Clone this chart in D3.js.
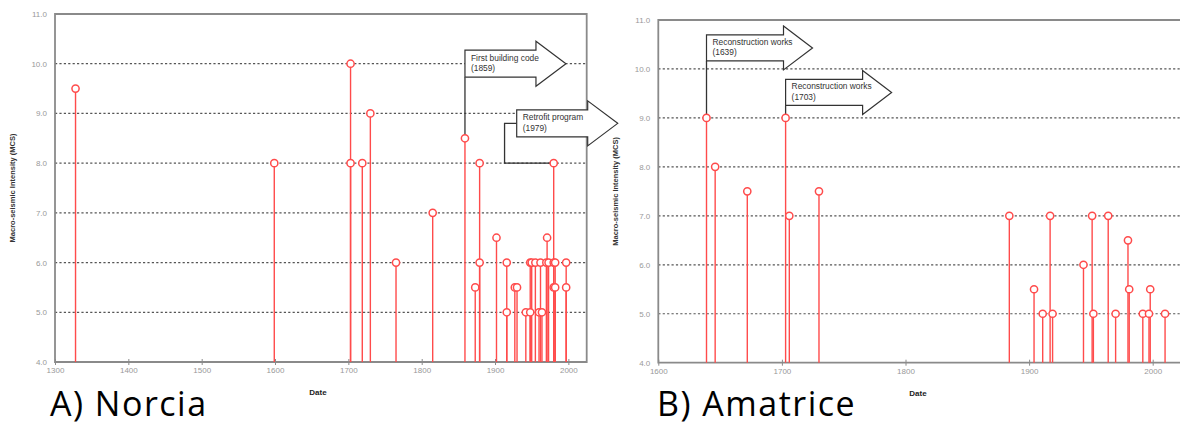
<!DOCTYPE html>
<html><head><meta charset="utf-8">
<script src="https://cdn.jsdelivr.net/npm/d3@7"></script>
<style>
html,body{margin:0;padding:0;background:#fff;}
svg{display:block;font-family:"Liberation Sans",Arial,sans-serif;}
</style></head>
<body>
<svg id="chart" width="1180" height="425"></svg>
<script>
// ---------- DATA ----------
const norciaYears = [1328,1599,1703,1703,1719,1730,1765,1815,1859,1873,1879,1879,1902,1916,1916,1927,1930,1942,1948,1948,1950,1955,1960,1962,1964,1970,1971,1973,1980,1980,1980,1982,1982,1997,1997];
const norciaMCS   = [9.5, 8,   10,  8,   8,   9,   6,   7,   8.5, 5.5, 8,   6,   6.5, 6,   5,   5.5, 5.5, 5,   6,   5,   6,   6,   5,   6,   5,   6,   6.5, 6,   8,   6,   5.5, 6,   5.5, 6,   5.5];
const amatriceYears = [1639,1646,1672,1703,1706,1730,1884,1904,1911,1917,1919,1944,1951,1952,1964,1970,1980,1981,1992,1997,1998,2010];
const amatriceMCS   = [9,   8,   7.5, 9,   7,   7.5, 7,   5.5, 5,   7,   5,   6,   7,   5,   7,   5,   6.5, 5.5, 5,   5,   5.5, 5];
const yTicks = [4,5,6,7,8,9,10,11];
const norciaXTicks = [1300,1400,1500,1600,1700,1800,1900,2000];
const amatriceXTicks = [1600,1700,1800,1900,2000];
const norciaNotes = [
  {lines:["First building  code","(1859)"], year:1859, mcs:8.5, boxMcs:10.0},
  {lines:["Retrofit program","(1979)"], year:1980, mcs:8, boxMcs:8.8, startYear:1913}
];
const amatriceNotes = [
  {lines:["Reconstruction works","(1639)"], year:1639, mcs:9, boxMcs:10.43},
  {lines:["Reconstruction works","(1703)"], year:1703, mcs:9, boxMcs:9.52}
];
const captions = ["A) Norcia","B) Amatrice"];
const xTitle = "Date";
const yTitle = "Macro-seismic Intensity (MCS)";

// ---------- DRAW ----------
const svg = d3.select("#chart");
const RED = "#ff4b4b";

function panel(cfg){
  const g = svg.append("g");
  const x = d3.scaleLinear().domain(cfg.xDomain).range([cfg.left, cfg.right]);
  const y = d3.scaleLinear().domain([4,11]).range([cfg.bottom, cfg.top]);

  // grid
  g.selectAll("line.grid").data(yTicks.filter(v=>v>4 && v<11)).join("line")
    .attr("x1", cfg.left).attr("x2", Math.min(cfg.right,1180))
    .attr("y1", d=>y(d)).attr("y2", d=>y(d))
    .attr("stroke","#555").attr("stroke-width",1.2).attr("stroke-dasharray","2.2,2.2");

  // frame
  g.append("path")
    .attr("d", cfg.openRight
      ? `M${cfg.right},${cfg.top}H${cfg.left}V${cfg.bottom}H${cfg.right}`
      : `M${cfg.left},${cfg.top}H${cfg.right}V${cfg.bottom}H${cfg.left}Z`)
    .attr("fill","none").attr("stroke","#8a8a8a").attr("stroke-width",1.8);

  // x axis ticks + labels
  const xa = d3.axisBottom(x).tickValues(cfg.xTicks).tickSize(3).tickFormat(d3.format("d"));
  const xg = g.append("g").attr("transform",`translate(0,${cfg.bottom})`).call(xa);
  xg.select(".domain").remove();
  xg.selectAll(".tick line").attr("stroke","#8a8a8a").attr("y1",-3);
  xg.selectAll(".tick text").attr("fill","#999").attr("font-size",8).attr("dy","0.9em").attr("y",4);

  // y axis labels
  const ya = d3.axisLeft(y).tickValues(yTicks).tickSize(0).tickFormat(d3.format(".1f"));
  const yg = g.append("g").attr("transform",`translate(${cfg.left},0)`).call(ya);
  yg.select(".domain").remove();
  yg.selectAll(".tick text").attr("fill","#999").attr("font-size",8).attr("x",-8);

  // titles
  g.append("text").attr("x", cfg.xTitleX).attr("y", cfg.bottom+33).attr("text-anchor","middle")
    .attr("font-size",8).attr("font-weight","bold").attr("fill","#222").text(xTitle);
  g.append("text").attr("transform",`translate(${cfg.left-40},${(cfg.top+cfg.bottom)/2}) rotate(-90)`)
    .attr("text-anchor","middle").attr("font-size",7.5).attr("font-weight","bold").attr("fill","#333").text(yTitle);

  // caption
  g.append("text").attr("x", cfg.capX).attr("y", 416).attr("font-family","'Open Sans',sans-serif")
    .attr("font-size",34).attr("letter-spacing",1.5).attr("fill","#000").text(cfg.caption);

  // annotations
  cfg.notes.forEach(n=>{
    const cy = y(n.boxMcs);
    const bodyL = n.startYear ? x(n.year) - 37 : x(n.year);
    const bw = cfg.bodyW, hl = cfg.headL, bh = cfg.bodyH/2, hh = cfg.headH/2;
    const ga = g.append("g");
    if(n.startYear){
      const cx = x(n.startYear);
      ga.append("path").attr("d",`M${x(n.year)},${y(n.mcs)}H${cx}V${cy}H${bodyL}`)
        .attr("fill","none").attr("stroke","#333").attr("stroke-width",1.3);
    } else {
      ga.append("line").attr("x1",x(n.year)).attr("x2",x(n.year)).attr("y1",y(n.mcs)).attr("y2",cy+bh)
        .attr("stroke","#333").attr("stroke-width",1.3);
    }
    ga.append("path").attr("d",
      `M${bodyL},${cy-bh}H${bodyL+bw}V${cy-hh}L${bodyL+bw+hl},${cy}L${bodyL+bw},${cy+hh}V${cy+bh}H${bodyL}Z`)
      .attr("fill","#fff").attr("stroke","#333").attr("stroke-width",1.2);
    ga.append("text").attr("x",bodyL+6).attr("y",cy-3).attr("font-size",8.4).attr("fill","#333").text(n.lines[0]);
    ga.append("text").attr("x",bodyL+6).attr("y",cy+7.5).attr("font-size",8.4).attr("fill","#333").text(n.lines[1]);
  });

  // stems
  const pts = cfg.years.map((yr,i)=>({yr, v:cfg.vals[i]}));
  g.selectAll("line.stem").data(pts).join("line")
    .attr("x1",d=>x(d.yr)).attr("x2",d=>x(d.yr)).attr("y1",y(4)).attr("y2",d=>y(d.v))
    .attr("stroke",RED).attr("stroke-width",1.4);
  g.selectAll("circle.pt").data(pts).join("circle")
    .attr("cx",d=>x(d.yr)).attr("cy",d=>y(d.v)).attr("r",3.6)
    .attr("fill","#fff").attr("stroke",RED).attr("stroke-width",1.5);
}

panel({left:55, right:586.7, top:14, bottom:362, xDomain:[1300,2025], xTicks:norciaXTicks,
  years:norciaYears, vals:norciaMCS, notes:norciaNotes, caption:captions[0], capX:50, xTitleX:318,
  bodyW:71, headL:30, bodyH:27, headH:45});
panel({left:658.3, right:1183.6, top:20, bottom:362.7, xDomain:[1600,2025], xTicks:amatriceXTicks,
  years:amatriceYears, vals:amatriceMCS, notes:amatriceNotes, caption:captions[1], capX:657, xTitleX:918,
  bodyW:77, headL:29, bodyH:26, headH:44, openRight:true});
</script>
</body></html>
